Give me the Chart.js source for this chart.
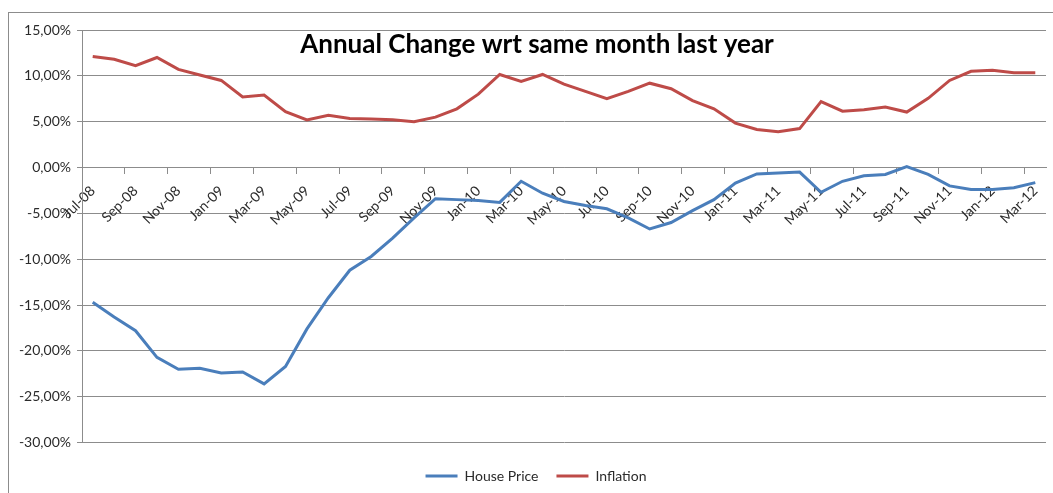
<!DOCTYPE html>
<html>
<head>
<meta charset="utf-8">
<title>Annual Change wrt same month last year</title>
<script src="https://cdn.jsdelivr.net/npm/chart.js@4.4.1/dist/chart.umd.min.js"></script>
<style>
  html, body { margin: 0; padding: 0; background: #fff; overflow: hidden; }
  #frame { position: absolute; left: 8px; top: 12px; width: 1100px; height: 600px; border: 1px solid #8c8c8c; }
  #wrap { position: absolute; left: 0; top: 0; width: 1053px; height: 493px; }
</style>
</head>
<body>
<div id="frame"></div>
<div id="wrap"><canvas id="chart"></canvas></div>
<script>
// =========================
// DATA
// =========================

const TITLE = "Annual Change wrt same month last year";

const months = [
  "Jul-08", "Aug-08", "Sep-08", "Oct-08", "Nov-08", "Dec-08",
  "Jan-09", "Feb-09", "Mar-09", "Apr-09", "May-09", "Jun-09",
  "Jul-09", "Aug-09", "Sep-09", "Oct-09", "Nov-09", "Dec-09",
  "Jan-10", "Feb-10", "Mar-10", "Apr-10", "May-10", "Jun-10",
  "Jul-10", "Aug-10", "Sep-10", "Oct-10", "Nov-10", "Dec-10",
  "Jan-11", "Feb-11", "Mar-11", "Apr-11", "May-11", "Jun-11",
  "Jul-11", "Aug-11", "Sep-11", "Oct-11", "Nov-11", "Dec-11",
  "Jan-12", "Feb-12", "Mar-12"
];

// % change vs same month of the previous year
const housePrice = [
  -14.7, -16.3, -17.8, -20.7, -22.0, -21.9, -22.4, -22.3, -23.6, -21.7,
  -17.6, -14.2, -11.2, -9.7, -7.7, -5.5, -3.4, -3.5, -3.6, -3.8,
  -1.5, -2.8, -3.7, -4.15, -4.5, -5.5, -6.7, -6.0, -4.7, -3.5,
  -1.7, -0.7, -0.6, -0.5, -2.7, -1.5, -0.9, -0.75, 0.1, -0.75,
  -2.0, -2.4, -2.4, -2.2, -1.65
];

const inflation = [
  12.1, 11.8, 11.1, 12.0, 10.7, 10.1, 9.5, 7.7, 7.9, 6.1,
  5.2, 5.7, 5.35, 5.3, 5.2, 5.0, 5.5, 6.4, 8.0, 10.15,
  9.4, 10.15, 9.1, 8.3, 7.5, 8.3, 9.2, 8.6, 7.3, 6.4,
  4.85, 4.15, 3.9, 4.25, 7.2, 6.15, 6.3, 6.6, 6.05, 7.55,
  9.5, 10.5, 10.6, 10.35, 10.35
];

const yMin = -30;
const yMax = 15;
const yStep = 5;


// =========================
// STYLE
// =========================

const FONT = "Lato, 'Open Sans', sans-serif";
const GRID = "#8c8c8c";
const TEXT = "#2b2b2b";

function pct(v) {
  return v.toFixed(2).replace(".", ",") + "%";
}

// title sits inside the plot, over the top gridlines
const chartTitle = {
  id: "chartTitle",
  afterDraw(chart, args, opts) {
    const ctx = chart.ctx;
    ctx.save();
    ctx.font = "bold " + opts.size + "px " + FONT;
    ctx.fillStyle = "#000";
    ctx.textAlign = "center";
    ctx.textBaseline = "alphabetic";
    ctx.fillText(opts.text, opts.x, opts.y);
    ctx.restore();
  }
};

// slide the legend row a bit right of the canvas centre
const legendShift = {
  id: "legendShift",
  afterLayout(chart, args, opts) {
    const lg = chart.legend;
    if (!lg) return;
    lg.left += opts.dx;
    lg.right += opts.dx;
  }
};


// =========================
// RENDER
// =========================

new Chart(document.getElementById("chart"), {
  type: "line",
  plugins: [chartTitle, legendShift],
  data: {
    labels: months,
    datasets: [
      {
        label: "House Price",
        data: housePrice,
        borderColor: "#4a7ebb",
        backgroundColor: "#4a7ebb",
        borderWidth: 3,
        pointRadius: 0,
        tension: 0
      },
      {
        label: "Inflation",
        data: inflation,
        borderColor: "#be4b48",
        backgroundColor: "#be4b48",
        borderWidth: 3,
        pointRadius: 0,
        tension: 0
      }
    ]
  },
  options: {
    responsive: true,
    maintainAspectRatio: false,
    animation: false,
    layout: { padding: { top: 30, right: 7, left: 0, bottom: 0 } },
    plugins: {
      tooltip: { enabled: false },
      chartTitle: { text: TITLE, size: 26, x: 537, y: 53 },
      legendShift: { dx: 13 },
      legend: {
        position: "bottom",
        // blank title only adds a little room above the legend row
        title: { display: true, text: " ", font: { size: 2 }, padding: { top: 3, bottom: 3 } },
        labels: {
          usePointStyle: true,
          pointStyle: "line",
          pointStyleWidth: 32,
          color: TEXT,
          font: { family: FONT, size: 14 },
          padding: 18
        }
      }
    },
    scales: {
      x: {
        position: { y: 0 },
        offset: true,
        grid: {
          offset: true,
          drawOnChartArea: false,
          drawTicks: true,
          tickLength: 6,
          color: c => (c.index % 2 === 0 ? GRID : "rgba(0,0,0,0)")
        },
        border: { color: GRID },
        ticks: {
          autoSkip: false,
          minRotation: 45,
          maxRotation: 45,
          padding: 9,
          color: TEXT,
          font: { family: FONT, size: 14 },
          callback: (v, i) => (i % 2 === 0 ? months[i] : "")
        },
        afterFit(s) {
          s.paddingLeft = 0;
          s.paddingRight = 0;
        }
      },
      y: {
        min: yMin,
        max: yMax,
        grid: { color: GRID, tickLength: 5 },
        border: { color: GRID },
        ticks: {
          stepSize: yStep,
          padding: 6,
          color: TEXT,
          font: { family: FONT, size: 14 },
          callback: v => pct(v)
        },
        afterFit(s) {
          s.width = 82;
        }
      }
    }
  }
});
</script>
</body>
</html>
